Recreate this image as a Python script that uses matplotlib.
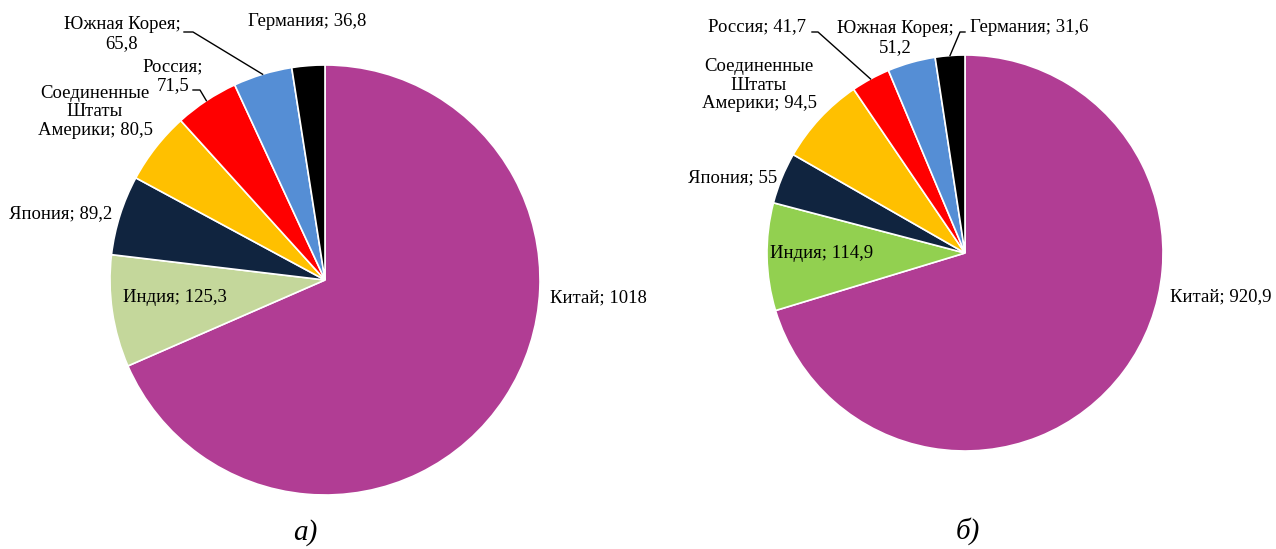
import matplotlib.pyplot as plt
import numpy as np

plt.rcParams['font.family'] = ['Liberation Serif', 'DejaVu Serif']

countries = ["Китай", "Индия", "Япония", "Соединенные\nШтаты\nАмерики", "Россия",
             "Южная Корея", "Германия"]
values_a = [1018, 125.3, 89.2, 80.5, 71.5, 65.8, 36.8]
values_b = [920.9, 114.9, 55, 94.5, 41.7, 51.2, 31.6]
colors_a = ["#B13D94", "#C4D79B", "#10243F", "#FFC000", "#FF0000", "#558ED5", "#000000"]
colors_b = ["#B13D94", "#92D050", "#10243F", "#FFC000", "#FF0000", "#558ED5", "#000000"]
captions = ["а)", "б)"]

W, H = 1276, 549


def fmt(v):
    s = f"{v:g}".replace(".", ",")
    return s


# label layout in image pixels: (x, y, ha, sep)  sep: ";" joiner
layout_a = [
    (550, 298, "left", "; "),
    (175, 297, "center", "; "),
    (112, 214, "right", "; "),
    (95, 112, "center", "; "),
    (173, 76, "center", ";\n"),
    (122, 34, "center", ";\n"),
    (307, 22, "center", "; "),
]
layout_b = [
    (1170, 297, "left", "; "),
    (822, 254, "center", "; "),
    (777, 178, "right", "; "),
    (759, 85, "center", "; "),
    (757, 27, "center", "; "),
    (895, 38, "center", ";\n"),
    (970, 27, "left", "; "),
]
# leader lines: index -> (start point, knee point) in image pixels
leaders_a = {5: [(184, 32), (193, 32)], 4: [(193, 90), (200, 90)]}
leaders_b = {4: [(812, 32), (818, 32)], 6: [(965, 32), (960, 32)]}

fig = plt.figure(figsize=(12.76, 5.49), dpi=100)
ax = fig.add_axes([0, 0, 1, 1])


def draw_pie(values, colors, center, radius, layout, leaders, caption, cap_pos):
    cx, cy = center[0], H - center[1]
    wedges, _ = ax.pie(values, colors=colors, startangle=90, counterclock=False,
                       center=(cx, cy), radius=radius,
                       wedgeprops=dict(edgecolor="white", linewidth=1.2))
    for i, (name, v) in enumerate(zip(countries, values)):
        x, y, ha, sep = layout[i]
        ax.text(x, H - y, name + sep + fmt(v), ha=ha, va="center", fontsize=13.5,
                multialignment="center", linespacing=1.12, color="black")
    for i, pts in leaders.items():
        w = wedges[i]
        a = np.deg2rad((w.theta1 + w.theta2) / 2)
        ex, ey = cx + radius * np.cos(a), cy + radius * np.sin(a)
        xs = [p[0] for p in pts] + [ex]
        ys = [H - p[1] for p in pts] + [ey]
        ax.plot(xs, ys, color="black", lw=1)
    ax.text(cap_pos[0], H - cap_pos[1], caption, ha="center", va="center",
            fontsize=21, style="italic")


draw_pie(values_a, colors_a, (325, 280), 215, layout_a, leaders_a, captions[0], (305, 533))
draw_pie(values_b, colors_b, (965, 253), 198, layout_b, leaders_b, captions[1], (968, 531))

ax.set_xlim(0, W)
ax.set_ylim(0, H)
ax.set_aspect("equal")
ax.axis("off")
fig.savefig("out.png", dpi=100, facecolor="white")
